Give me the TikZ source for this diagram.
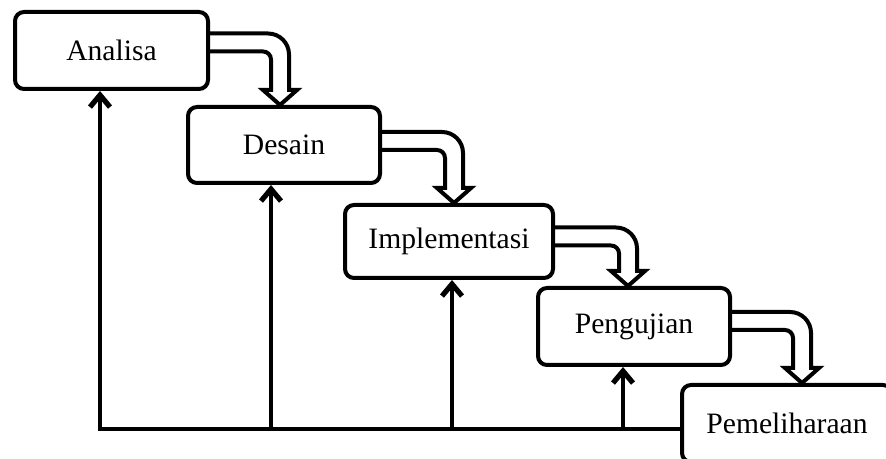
\documentclass[tikz,border=0pt]{standalone}
\usepackage{fontspec}
\setmainfont{Liberation Serif}
\usetikzlibrary{arrows.meta,calc}

\newcommand{\pipa}[2]{\draw[turun] let \p1=(#1), \p2=(#2) in
  (\x1,\y1+4.5pt) -- (\x2+4.5pt-10.5pt,\y1+4.5pt) arc[start angle=90,end angle=0,radius=10.5pt]
  -- (\x2+4.5pt,\y2+7.5pt) -- (\x2+8.5pt,\y2+7.5pt) -- (\x2,\y2) -- (\x2-8.5pt,\y2+7.5pt)
  -- (\x2-4.5pt,\y2+7.5pt) -- (\x2-4.5pt,\y1-4.5pt-4pt) arc[start angle=0,end angle=90,radius=4pt]
  -- (\x1,\y1-4.5pt);}

\begin{document}
\begin{tikzpicture}[x=0.5pt, y=0.5pt,
  tahap/.style={draw, line width=2pt, rounded corners=4.5pt, inner sep=0pt,
    font=\fontsize{14.8}{17}\selectfont},
  naik/.style={line width=2pt, -{Straight Barb[length=6pt,width=10pt,line width=2.6pt]}},
  turun/.style={line width=2pt}]
\useasboundingbox (0,0) rectangle (886,459);
\node[tahap, minimum width=96.5pt, minimum height=38.5pt] (analisa) at (111.5,408.5){Analisa};
\node[tahap, minimum width=96pt, minimum height=38pt] (desain) at (284,314){Desain};
\node[tahap, minimum width=104pt, minimum height=36.5pt] (implementasi) at (449,217.5){Implementasi};
\node[tahap, minimum width=96pt, minimum height=38.5pt] (pengujian) at (634,132.5){Pengujian};
\node[tahap, minimum width=105pt, minimum height=38.5pt] (pemeliharaan) at (787,35.5){Pemeliharaan};
% aliran turun
\pipa{[yshift=4pt]analisa.east}{[xshift=-2pt]desain.north}
\pipa{[yshift=2pt]desain.east}{[xshift=2.5pt]implementasi.north}
\pipa{[yshift=2.5pt]implementasi.east}{[xshift=-3pt]pengujian.north}
\pipa{[yshift=2.75pt]pengujian.east}{[xshift=7.5pt]pemeliharaan.north}
% umpan balik
\coordinate (b1) at (100,30);
\coordinate (b2) at (271,30);
\coordinate (b3) at (452,30);
\coordinate (b4) at (623,30);
\draw[naik] (b1 -| pemeliharaan.west) -- (b1) -- (b1 |- analisa.south);
\draw[naik] (b2) -- (b2 |- desain.south);
\draw[naik] (b3) -- (b3 |- implementasi.south);
\draw[naik] (b4) -- (b4 |- pengujian.south);
\end{tikzpicture}
\end{document}
